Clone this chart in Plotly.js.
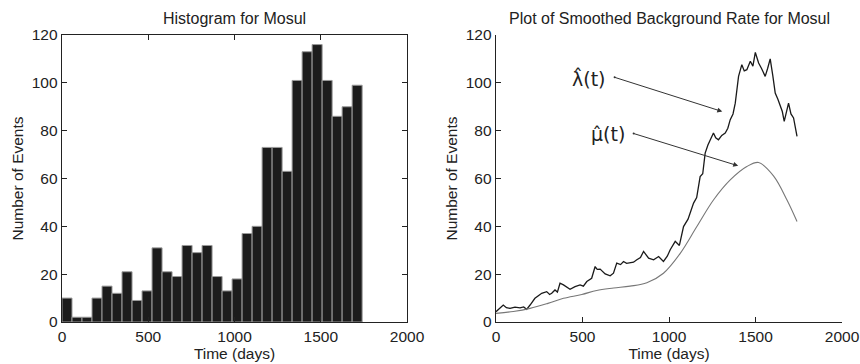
<!DOCTYPE html>
<html>
<head>
<meta charset="utf-8">
<script src="https://cdn.plot.ly/plotly-3.0.1.min.js"></script>
<style>html,body{margin:0;padding:0;background:#fff;}#chart{width:860px;height:364px;}</style>
</head>
<body>
<div id="chart"></div>
<script>
// Histogram (left panel)
var binCenters = [29, 87, 145, 203, 261, 319, 377, 435, 493, 551, 609, 667, 725, 783, 841, 899, 957, 1015, 1073, 1131, 1189, 1247, 1305, 1363, 1421, 1479, 1537, 1595, 1653, 1711];
var binCounts = [10, 2, 2, 10, 15, 12, 21, 9, 13, 31, 21, 19, 32, 29, 32, 19, 13, 18, 37, 40, 73, 73, 63, 101, 113, 116, 101, 86, 90, 99];
var binWidth = 58;

// Smoothed rates (right panel)
var lambdaT = [0, 20, 42, 60, 81, 110, 139, 160, 177, 197, 225, 245, 264, 293, 310, 322, 341, 355, 370, 390, 410, 428, 457, 486, 505, 525, 553, 573, 585, 602, 631, 660, 679, 698, 720, 737, 755, 775, 795, 814, 835, 853, 882, 911, 940, 968, 990, 1007, 1036, 1060, 1084, 1110, 1142, 1160, 1180, 1195, 1209, 1225, 1238, 1257, 1270, 1286, 1305, 1325, 1340, 1354, 1370, 1383, 1402, 1421, 1435, 1450, 1470, 1485, 1499, 1518, 1535, 1556, 1570, 1585, 1600, 1614, 1630, 1643, 1655, 1666, 1680, 1691, 1705, 1720, 1740];
var lambdaV = [4.3, 5.5, 7.1, 6, 5.7, 6.2, 5.9, 6.3, 5.3, 7.1, 9.9, 11, 12, 12.7, 11.5, 12, 13.4, 12.5, 16.2, 15.5, 14.5, 13.7, 14.8, 15.5, 15, 16.9, 18.3, 23.2, 22, 22.1, 20.1, 19.3, 20.4, 24.6, 24, 25.3, 24.5, 24.6, 25, 26, 27, 29.5, 26.7, 26, 27.4, 25.3, 27.5, 30.2, 33.7, 32, 39.9, 43, 49.7, 52, 60.8, 62, 70.6, 74, 76.2, 79, 77, 76.2, 78, 79, 81, 84.6, 87, 91.5, 102.7, 107.6, 105, 105.5, 109, 107, 112.7, 108.3, 106, 102.7, 106, 110, 103, 95.7, 93, 90.8, 88, 83.9, 88, 91.5, 87, 85.3, 77.6];
var muT = [0, 100, 197, 300, 390, 496, 582, 680, 775, 872, 968, 1065, 1161, 1257, 1354, 1450, 1518, 1605, 1682, 1740];
var muV = [3.6, 4.4, 5.7, 7.8, 9.9, 11.5, 13.2, 14.2, 15, 16.4, 20.4, 28.7, 39.9, 51, 59.4, 65, 66.7, 61, 51, 42];

var xTicks = [0, 500, 1000, 1500, 2000];
var yTicks = [0, 20, 40, 60, 80, 100, 120];

var FONT = 'Liberation Sans, Arial, sans-serif';
var AX = '#222';

function axisCommon(extra) {
  var a = {
    showgrid: false, zeroline: false, showline: true, linecolor: AX, linewidth: 1.3,
    ticks: 'inside', ticklen: 5, tickcolor: AX, tickwidth: 1,
    tickfont: {family: FONT, size: 15.5, color: AX},
    automargin: false, fixedrange: true
  };
  for (var k in extra) a[k] = extra[k];
  return a;
}

var traces = [
  {
    type: 'bar', x: binCenters, y: binCounts, width: binWidth,
    marker: {color: '#1c1c1c', line: {color: '#9a9a9a', width: 1}},
    xaxis: 'x', yaxis: 'y', hoverinfo: 'skip'
  },
  {
    type: 'scatter', mode: 'lines', x: lambdaT, y: lambdaV,
    line: {color: '#1a1a1a', width: 1.3},
    xaxis: 'x2', yaxis: 'y2', hoverinfo: 'skip'
  },
  {
    type: 'scatter', mode: 'lines', x: muT, y: muV,
    line: {color: '#777', width: 1.1, shape: 'spline', smoothing: 1},
    xaxis: 'x2', yaxis: 'y2', hoverinfo: 'skip'
  }
];

var TITLE_FONT = {family: FONT, size: 15.5, color: AX};

var layout = {
  width: 860, height: 364,
  margin: {l: 0, r: 0, t: 0, b: 0},
  paper_bgcolor: '#fff', plot_bgcolor: '#fff',
  showlegend: false,
  bargap: 0,
  xaxis: axisCommon({domain: [62/860, 407/860], range: [0, 2000], tickvals: xTicks, mirror: 'ticks', anchor: 'y',
    title: {text: 'Time (days)', font: TITLE_FONT, standoff: 2}}),
  yaxis: axisCommon({domain: [42/364, 329/364], range: [0, 120], tickvals: yTicks, mirror: 'ticks', anchor: 'x',
    title: {text: 'Number of Events', font: TITLE_FONT, standoff: 4}}),
  xaxis2: axisCommon({domain: [496/860, 842/860], range: [0, 2000], tickvals: xTicks, anchor: 'y2',
    title: {text: 'Time (days)', font: TITLE_FONT, standoff: 2}}),
  yaxis2: axisCommon({domain: [42/364, 329/364], range: [0, 120], tickvals: yTicks, anchor: 'x2',
    title: {text: 'Number of Events', font: TITLE_FONT, standoff: 4}}),
  annotations: [
    {text: 'Histogram for Mosul', xref: 'paper', yref: 'paper', x: 234/860, y: 1 - 18/364, xanchor: 'center', yanchor: 'middle',
     showarrow: false, font: {family: FONT, size: 16, color: AX}},
    {text: 'Plot of Smoothed Background Rate for Mosul', xref: 'paper', yref: 'paper', x: 669/860, y: 1 - 18/364, xanchor: 'center', yanchor: 'middle',
     showarrow: false, font: {family: FONT, size: 16, color: AX}},
    {text: 'λ\u0302(t)', xref: 'x2', yref: 'y2', x: 645, y: 102, xanchor: 'right', yanchor: 'middle',
     showarrow: false, font: {family: 'DejaVu Sans, sans-serif', size: 19, color: AX}},
    {text: 'μ\u0302(t)', xref: 'x2', yref: 'y2', x: 760, y: 78.5, xanchor: 'right', yanchor: 'middle',
     showarrow: false, font: {family: 'DejaVu Sans, sans-serif', size: 19, color: AX}},
    {text: '', xref: 'x2', yref: 'y2', x: 1308, y: 88, axref: 'x2', ayref: 'y2', ax: 677, ay: 102.5,
     showarrow: true, arrowside: 'end+start', arrowhead: 2, startarrowhead: 6, arrowsize: 1, startarrowsize: 0.5, arrowwidth: 1, arrowcolor: '#333'},
    {text: '', xref: 'x2', yref: 'y2', x: 1400, y: 65.3, axref: 'x2', ayref: 'y2', ax: 787, ay: 79,
     showarrow: true, arrowside: 'end+start', arrowhead: 2, startarrowhead: 6, arrowsize: 1, startarrowsize: 0.5, arrowwidth: 1, arrowcolor: '#333'}
  ]
};

Plotly.newPlot('chart', traces, layout, {staticPlot: true, displayModeBar: false});
</script>
</body>
</html>
